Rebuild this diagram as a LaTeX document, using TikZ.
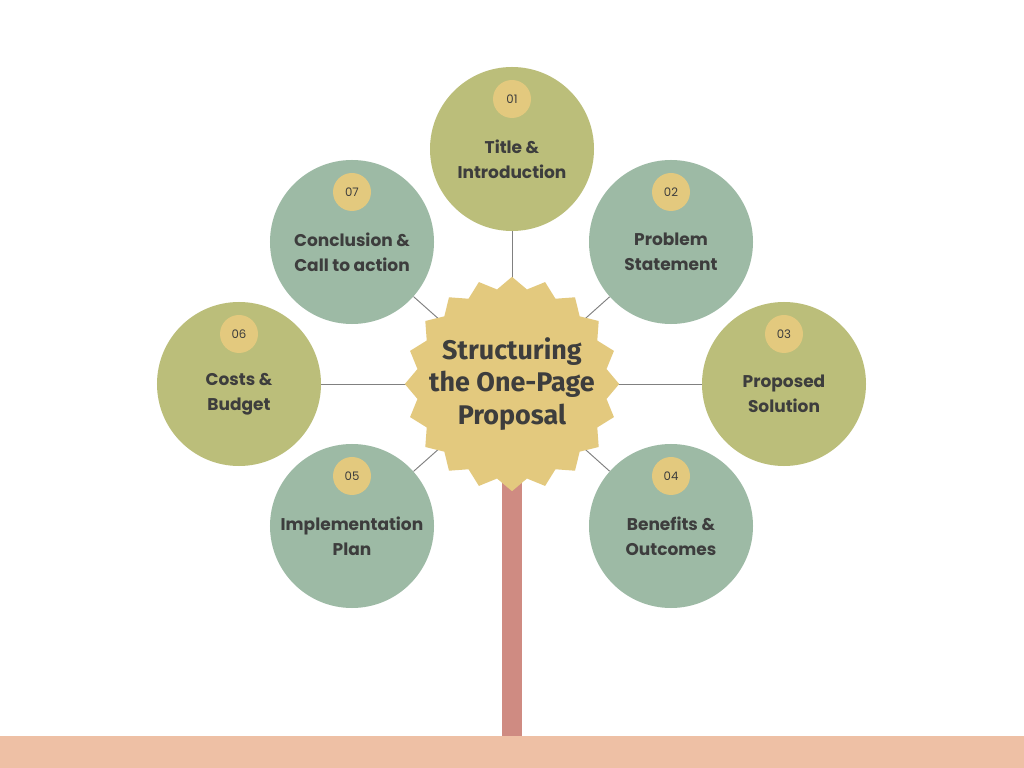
\documentclass[tikz,border=0pt]{standalone}
\usepackage{fontspec}
\setmainfont{Poppins}
\newfontfamily\titlefont{Fira Sans}
\usetikzlibrary{shapes.geometric,positioning}
\definecolor{olive}{HTML}{BBBE7A}
\definecolor{sage}{HTML}{9DBAA5}
\definecolor{sand}{HTML}{E3C97E}
\definecolor{trunk}{HTML}{CF8B82}
\definecolor{ground}{HTML}{EEC0A5}
\definecolor{ink}{HTML}{3D3D3D}
\begin{document}
\begin{tikzpicture}[x=0.03cm,y=-0.03cm]
\tikzstyle{leaf} = [circle, minimum size=4.92cm, inner sep=0pt]
\tikzstyle{badge} = [circle, fill=sand, minimum size=1.14cm, inner sep=0pt, text=ink, font=\fontsize{10}{12}\selectfont]
\tikzstyle{label} = [align=center, text=ink, font=\bfseries\fontsize{14.5}{21.5}\selectfont]
\tikzstyle{twig} = [draw=gray, line width=0.8pt]
\useasboundingbox (0,0) rectangle (1024,768);
\fill[white] (0,0) rectangle (1024,768);
% ground and trunk
\fill[ground] (0,736) rectangle (1024,768);
\fill[trunk] (502,480) rectangle (522,736);
% centre
\coordinate (hub) at (512,384);
\node (n1) [leaf, fill=olive] at (512,149) {};
\node (n2) [leaf, fill=sage] at (671,242) {};
\node (n3) [leaf, fill=olive] at (784,384) {};
\node (n4) [leaf, fill=sage] at (671,526) {};
\node (n5) [leaf, fill=sage] at (352,526) {};
\node (n6) [leaf, fill=olive] at (239,384) {};
\node (n7) [leaf, fill=sage] at (352,242) {};
\foreach \i in {1,...,7} {
  \draw[twig] (hub) -- (n\i);
}
\node (star) [star, star points=20, star point ratio=1.12, fill=sand, minimum size=6.43cm, inner sep=0pt] at (hub) {};
\node (title) [align=center, text=ink, font=\titlefont\bfseries\fontsize{23}{28}\selectfont] at (star) {Structuring\\the One-Page\\Proposal};
% numbers
\foreach \i in {1,...,7} {
  \node (b\i) [badge, yshift=1.5cm] at (n\i) {0\i};
}
\node (l1) [label, yshift=-0.3cm] at (n1) {Title \&\\Introduction};
\node (l2) [label, yshift=-0.3cm] at (n2) {Problem\\Statement};
\node (l3) [label, yshift=-0.3cm] at (n3) {Proposed\\Solution};
\node (l4) [label, yshift=-0.3cm] at (n4) {Benefits \&\\Outcomes};
\node (l5) [label, yshift=-0.3cm] at (n5) {Implementation\\Plan};
\node (l6) [label, yshift=-0.3cm] at (n6) {Costs \&\\Budget};
\node (l7) [label, yshift=-0.3cm] at (n7) {Conclusion \&\\Call to action};
\end{tikzpicture}
\end{document}
